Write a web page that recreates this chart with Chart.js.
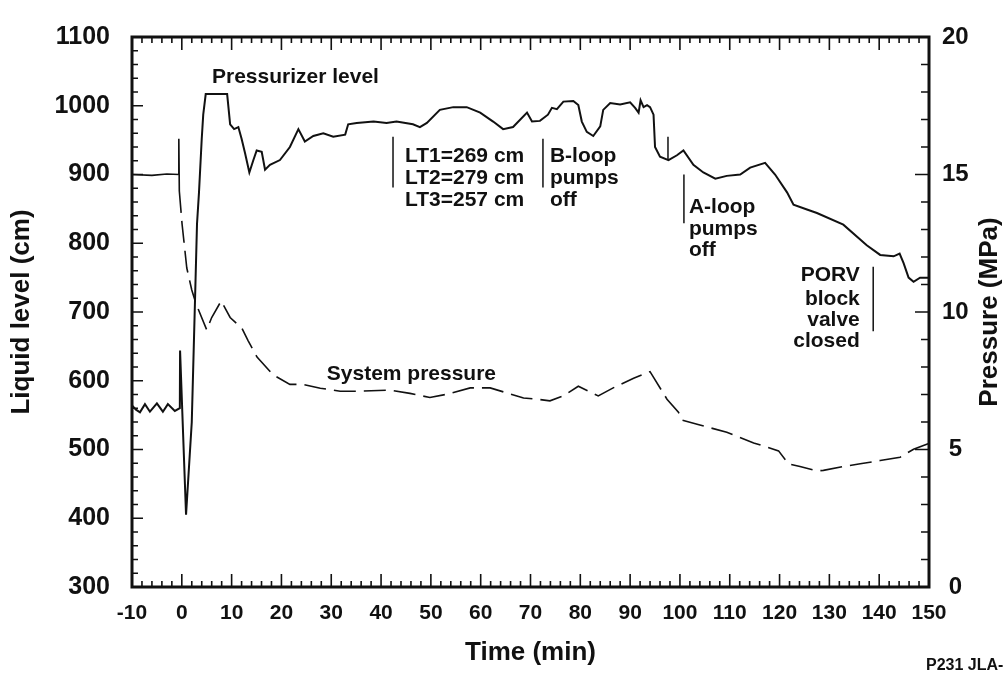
<!DOCTYPE html>
<html>
<head>
<meta charset="utf-8">
<script src="https://cdn.jsdelivr.net/npm/chart.js@4.4.1/dist/chart.umd.min.js"></script>
<style>
  html, body { margin: 0; padding: 0; background: #fff; }
  #wrap { width: 1007px; height: 676px; }
</style>
</head>
<body>
<div id="wrap"><canvas id="plot" width="1007" height="676"></canvas></div>
<script>
// pressurizer level (cm)
const levelTime = [-10, -9.2, -8.4, -7.4, -6.4, -5.0, -3.8, -2.8, -1.4, -0.4, -0.35, 0.85, 2.0, 2.65, 3.05, 3.45, 4.0, 4.3, 4.8, 9.1,
  9.7, 10.5, 11.35, 12.0, 12.7, 13.56, 14.37, 15.03, 16.04, 16.71, 17.7, 19.7, 21.7, 23.4, 24.7, 26.4, 28.4, 30.4, 32.8, 33.4,
  35.1, 38.5, 41.1, 43.1, 46.4, 47.8, 49.2, 51.8, 54.5, 57.2, 59.9, 62.5, 64.5, 66.5, 69.3, 70.3, 71.9, 73.5, 74.3, 75.3,
  76.6, 78.6, 79.6, 80.3, 81.3, 82.6, 84.0, 84.6, 86.0, 88.0, 90.0, 91.0, 91.7, 92.1, 92.7, 93.4, 94.0, 94.7, 95.0, 96.0,
  97.7, 99.4, 100.7, 102.7, 104.7, 107.1, 109.4, 112.1, 114.1, 117.1, 119.1, 121.5, 122.8, 125.5, 127.5, 132.8, 137.5, 140.2, 142.9, 144.1,
  144.9, 145.9, 146.9, 148.2, 150];
const levelCm = [564, 558, 554, 566, 555, 567, 555, 566, 556, 560, 644, 405, 540, 717, 828, 874, 952, 987, 1017, 1017,
  973, 966, 969, 952, 931, 903, 921, 935, 933, 907, 914, 921, 940, 966, 948, 956, 960, 955, 958, 973,
  975, 977, 975, 977, 973, 969, 975, 994, 998, 998, 990, 977, 966, 969, 990, 977, 978, 987, 997, 995,
  1006, 1007, 1001, 977, 962, 956, 970, 994, 1004, 1002, 1005, 997, 990, 1008, 998, 1001, 998, 987, 940, 926,
  921, 928, 935, 914, 903, 894, 898, 900, 910, 917, 900, 874, 856, 849, 844, 827, 797, 783, 781, 785,
  771, 750, 744, 750, 750];

// system pressure (MPa)
const pressTime = [-10, -6, -3, -0.6, -0.6, -0.5, 0.05, 1.0, 2.0, 2.85, 5.0, 6.0, 7.9, 9.7, 12.1, 13.3, 15.1, 18.3, 21.7, 24.3,
  27.8, 31.8, 35.2, 41.8, 45.8, 49.8, 53.2, 57.9, 61.9, 65.2, 68.6, 71.3, 73.9, 76.6, 79.6, 83.6, 86.6, 90.7, 94.0, 97.4,
  99.7, 100.4, 104, 109.4, 114.8, 119.8, 121.8, 124.1, 127.5, 128.8, 132.8, 136.2, 140.2, 144.2, 146.9, 150];
const pressMPa = [15.0, 14.97, 15.02, 15.0, 16.3, 14.4, 13.2, 11.6, 10.8, 10.3, 9.35, 9.8, 10.4, 9.8, 9.4, 8.96, 8.36, 7.72, 7.37, 7.37,
  7.23, 7.12, 7.12, 7.16, 7.04, 6.89, 7.01, 7.24, 7.24, 7.06, 6.87, 6.83, 6.77, 6.95, 7.30, 6.95, 7.24, 7.59, 7.83, 6.83,
  6.36, 6.07, 5.89, 5.63, 5.24, 4.95, 4.48, 4.38, 4.22, 4.24, 4.38, 4.48, 4.60, 4.72, 5.01, 5.22];

const ink = "#111";
const fam = '"Liberation Sans", Arial, sans-serif';

// inward ticks, frame, right title and the notes on the plot
const decorations = {
  id: "decorations",
  afterDraw(chart) {
    const { ctx, chartArea: a, scales } = chart;
    const X = v => scales.x.getPixelForValue(v);
    const Y = v => scales.y.getPixelForValue(v);
    const P = v => scales.y1.getPixelForValue(v);
    ctx.save();
    ctx.strokeStyle = ink;
    ctx.fillStyle = ink;

    ctx.lineWidth = 1.6;
    ctx.beginPath();
    for (let t = -10; t <= 150; t += 2) {
      const len = t % 10 === 0 ? 13 : 6;
      ctx.moveTo(X(t), a.bottom); ctx.lineTo(X(t), a.bottom - len);
      ctx.moveTo(X(t), a.top); ctx.lineTo(X(t), a.top + len);
    }
    for (let v = 300; v <= 1100; v += 20) {
      const len = v % 100 === 0 ? 11 : 6;
      ctx.moveTo(a.left, Y(v)); ctx.lineTo(a.left + len, Y(v));
    }
    for (let v = 0; v <= 20; v += 1) {
      const len = v % 5 === 0 ? 14 : 8;
      ctx.moveTo(a.right, P(v)); ctx.lineTo(a.right - len, P(v));
    }
    ctx.stroke();

    ctx.lineWidth = 3;
    ctx.strokeRect(a.left, a.top, a.right - a.left, a.bottom - a.top);

    // right axis title reads bottom to top
    ctx.save();
    ctx.translate(a.right + 61, (a.top + a.bottom) / 2);
    ctx.rotate(-Math.PI / 2);
    ctx.font = "bold 26px " + fam;
    ctx.textAlign = "center";
    ctx.textBaseline = "middle";
    ctx.fillText("Pressure (MPa)", 0, 0);
    ctx.restore();

    // event markers
    ctx.lineWidth = 1.5;
    ctx.beginPath();
    [[42.4, 955, 881], [72.5, 952, 881], [97.6, 955, 921], [100.8, 900, 829], [138.8, 766, 672]].forEach(m => {
      ctx.moveTo(X(m[0]), Y(m[1])); ctx.lineTo(X(m[0]), Y(m[2]));
    });
    ctx.stroke();

    ctx.font = "bold 21px " + fam;
    ctx.textBaseline = "middle";
    ctx.textAlign = "left";
    ctx.fillText("Pressurizer level", X(6.06), Y(1042));
    ctx.fillText("System pressure", X(29.1), Y(610));
    ["LT1=269 cm", "LT2=279 cm", "LT3=257 cm"].forEach((s, i) => ctx.fillText(s, X(44.8), Y([926, 894, 863][i])));
    ["B-loop", "pumps", "off"].forEach((s, i) => ctx.fillText(s, X(73.9), Y([926, 894, 863][i])));
    ["A-loop", "pumps", "off"].forEach((s, i) => ctx.fillText(s, X(101.8), Y([852, 821, 790][i])));
    ctx.textAlign = "right";
    ["PORV", "block", "valve", "closed"].forEach((s, i) => ctx.fillText(s, X(136.1), Y([754, 719, 688, 657][i])));

    ctx.textAlign = "left";
    ctx.font = "bold 16px " + fam;
    ctx.fillText("P231 JLA-", 926, 666);
    ctx.restore();
  }
};

const tickFont = size => ({ family: fam, size: size, weight: "bold" });
const plain = v => String(v);

new Chart(document.getElementById("plot").getContext("2d"), {
  type: "line",
  data: {
    datasets: [
      {
        label: "Pressurizer level",
        data: levelTime.map((t, i) => ({ x: t, y: levelCm[i] })),
        yAxisID: "y",
        borderColor: ink,
        borderWidth: 2,
        pointRadius: 0,
        tension: 0
      },
      {
        label: "System pressure",
        data: pressTime.map((t, i) => ({ x: t, y: pressMPa[i] })),
        yAxisID: "y1",
        borderColor: ink,
        borderWidth: 1.6,
        pointRadius: 0,
        tension: 0,
        segment: {
          borderDash: c => (c.p0.parsed.x < -0.55 ? [] : [22, 8])
        }
      }
    ]
  },
  options: {
    responsive: false,
    animation: false,
    layout: { padding: { top: 20, left: 0, right: 0, bottom: 0 } },
    plugins: { legend: { display: false }, tooltip: { enabled: false } },
    scales: {
      x: {
        type: "linear",
        min: -10,
        max: 150,
        ticks: { stepSize: 10, padding: 14, color: ink, font: tickFont(21), callback: plain },
        grid: { display: false, drawTicks: false },
        border: { display: false },
        title: { display: true, text: "Time (min)", color: ink, font: tickFont(26), padding: { top: 0, bottom: 8 } },
        afterFit(s) { s.height = 89; }
      },
      y: {
        position: "left",
        min: 300,
        max: 1100,
        ticks: { stepSize: 100, padding: 22, color: ink, font: tickFont(25), callback: plain },
        grid: { display: false, drawTicks: false },
        border: { display: false },
        title: { display: true, text: "Liquid level (cm)", color: ink, font: tickFont(26), padding: { top: 6, bottom: 0 } },
        afterFit(s) { s.width = 132; }
      },
      y1: {
        position: "right",
        min: 0,
        max: 20,
        ticks: { stepSize: 5, padding: 13, crossAlign: "center", color: ink, font: tickFont(24), callback: plain },
        grid: { display: false, drawTicks: false },
        border: { display: false },
        afterFit(s) { s.width = 78; }
      }
    }
  },
  plugins: [decorations]
});
</script>
</body>
</html>
